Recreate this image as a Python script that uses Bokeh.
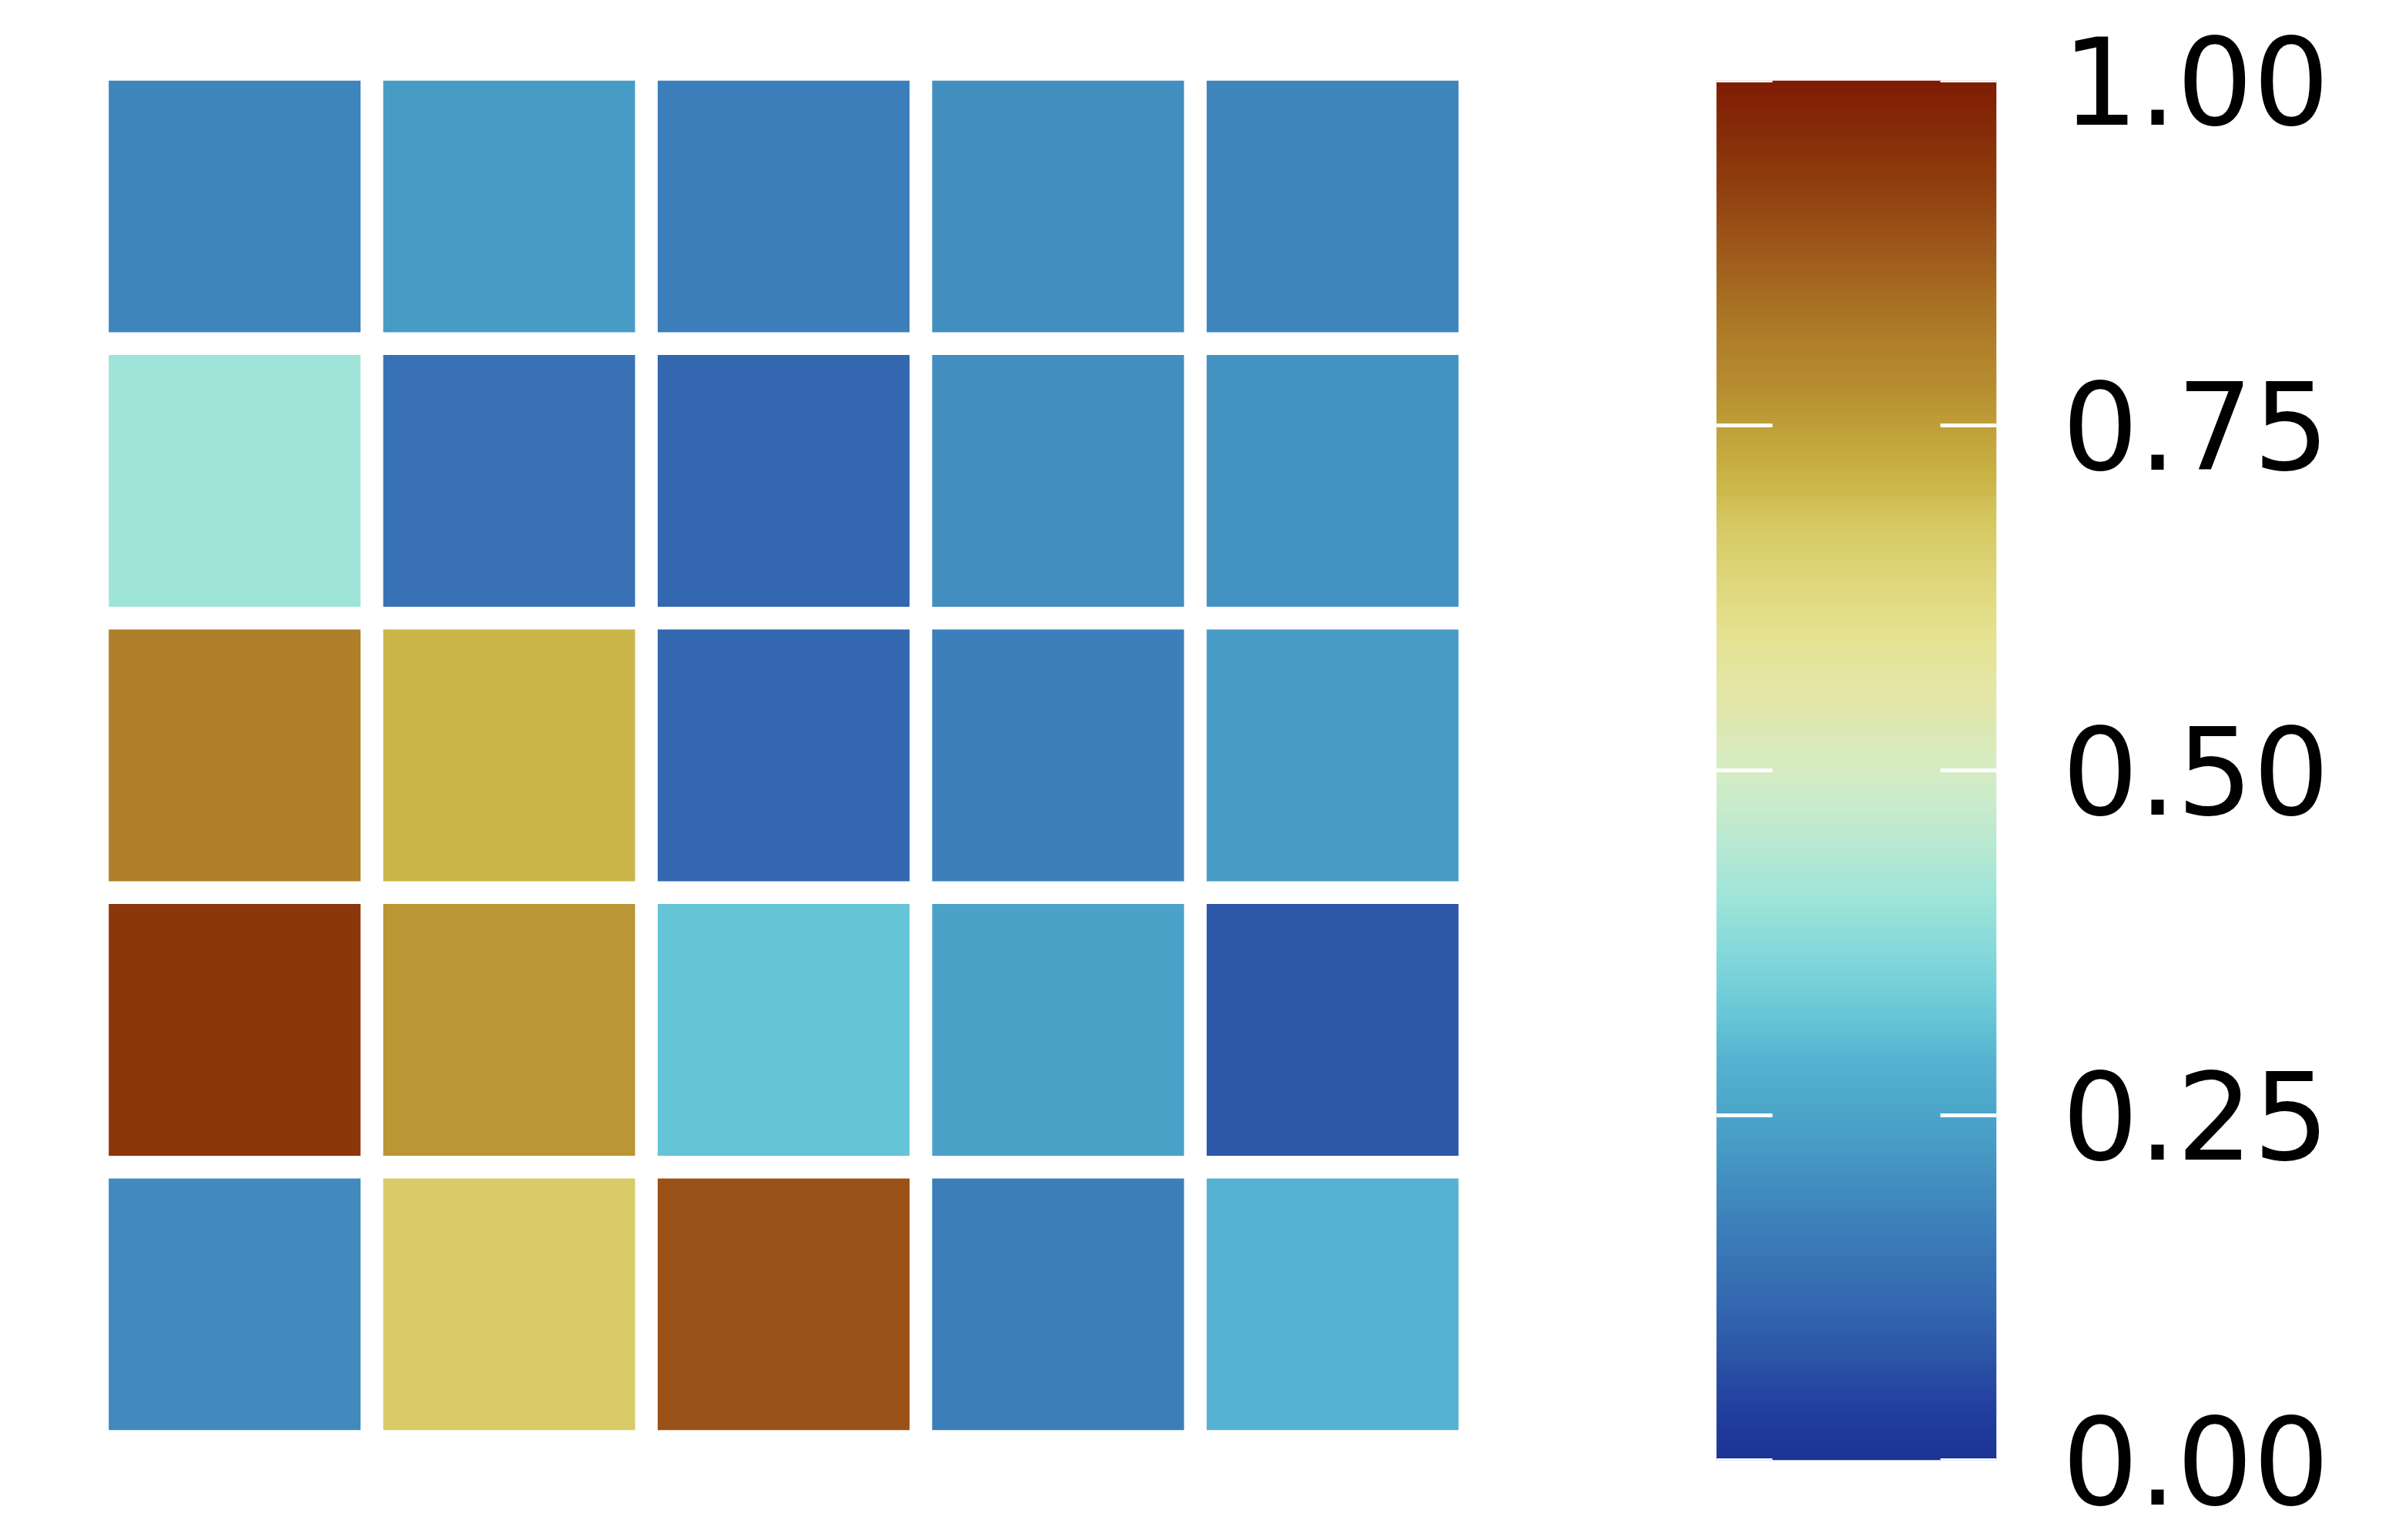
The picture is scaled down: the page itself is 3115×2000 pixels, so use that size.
import numpy as np
from bokeh.plotting import figure
from bokeh.layouts import row
from bokeh.models import ColumnDataSource, LinearColorMapper, FixedTicker, PrintfTickFormatter, Range1d
from bokeh.transform import transform
from bokeh.embed import file_html
from bokeh.resources import INLINE

# ---------------- data ----------------
columns = [0, 1, 2, 3, 4]
rows = [0, 1, 2, 3, 4]
row0 = [0.18, 0.23, 0.17, 0.20, 0.18]
row1 = [0.41, 0.14, 0.11, 0.20, 0.21]
row2 = [0.81, 0.71, 0.11, 0.17, 0.23]
row3 = [0.94, 0.765, 0.32, 0.245, 0.08]
row4 = [0.195, 0.67, 0.89, 0.165, 0.29]
cbar_ticks = [0.0, 0.25, 0.5, 0.75, 1.0]

# ---------------- colour map ----------------
anchors = [
    (0.00, "#1c3494"), (0.04, "#2441a0"), (0.08, "#2d58a8"), (0.11, "#3367af"),
    (0.14, "#3873b4"), (0.17, "#3c80ba"), (0.20, "#428ebf"), (0.23, "#489dc7"),
    (0.26, "#4da8ca"), (0.29, "#55b3d1"), (0.32, "#66c6d6"), (0.36, "#7fd6da"),
    (0.41, "#a0e5d8"), (0.46, "#c1ead0"), (0.50, "#d5ecc4"), (0.55, "#e3e7a9"),
    (0.60, "#e5e290"), (0.65, "#dcd274"), (0.68, "#d6c862"), (0.71, "#cab548"),
    (0.75, "#bf9f38"), (0.78, "#b78c30"), (0.81, "#b0802a"), (0.85, "#a56a20"),
    (0.89, "#9b5218"), (0.93, "#8e3c0d"), (0.97, "#852a07"), (1.00, "#7e1c03"),
]
def _rgb(h):
    return [int(h[i:i + 2], 16) for i in (1, 3, 5)]
pos = np.array([a[0] for a in anchors])
cols = np.array([_rgb(a[1]) for a in anchors], dtype=float)
t = np.linspace(0, 1, 256)
palette = []
for v in t:
    c = [np.interp(v, pos, cols[:, k]) for k in range(3)]
    palette.append("#%02x%02x%02x" % tuple(int(round(x)) for x in c))

mapper = LinearColorMapper(palette=palette, low=0.0, high=1.0)

# ---------------- heatmap ----------------
all_rows = [row0, row1, row2, row3, row4]
xs, ys, vs = [], [], []
for r, vals in zip(rows, all_rows):
    for c, v in zip(columns, vals):
        xs.append(c)
        ys.append(r)
        vs.append(v)
src = ColumnDataSource(dict(x=xs, y=ys, v=vs))

cell = 0.9175
half = cell / 2
p = figure(frame_width=1782, frame_height=1753, title=None,
           output_backend="svg", toolbar_location=None,
           x_range=Range1d(-0.5, 4.5), y_range=Range1d(4 + half, -half),
           x_axis_location=None, y_axis_location=None,
           min_border_left=126, min_border_right=0, min_border_top=104, min_border_bottom=100)
p.rect(x="x", y="y", width=cell, height=cell, source=src,
       fill_color=transform("v", mapper), line_color=None)
p.grid.visible = False
p.outline_line_color = None
p.background_fill_color = "white"
p.border_fill_color = "white"

# ---------------- colour bar ----------------
p2 = figure(frame_width=364, frame_height=1792, title=None,
            output_backend="svg", toolbar_location=None,
            x_range=Range1d(0, 1), y_range=Range1d(0, 1),
            x_axis_location=None, y_axis_location="right",
            min_border_left=320, min_border_right=480, min_border_top=104, min_border_bottom=104)
grad = np.linspace(0, 1, 512).reshape(-1, 1)
p2.image(image=[grad], x=0, y=0, dw=1, dh=1, color_mapper=mapper)
tick_frac = 73 / 364
p2.segment(x0=[0] * len(cbar_ticks), x1=[tick_frac] * len(cbar_ticks), y0=cbar_ticks, y1=cbar_ticks,
           line_color="white", line_width=5)
p2.segment(x0=[1 - tick_frac] * len(cbar_ticks), x1=[1] * len(cbar_ticks), y0=cbar_ticks, y1=cbar_ticks,
           line_color="white", line_width=5)
p2.grid.visible = False
p2.outline_line_color = None
ax = p2.yaxis[0]
ax.ticker = FixedTicker(ticks=cbar_ticks)
ax.formatter = PrintfTickFormatter(format="%.2f")
ax.axis_line_color = None
ax.major_tick_line_color = None
ax.minor_tick_line_color = None
ax.major_tick_out = 0
ax.major_tick_in = 0
ax.major_label_standoff = 85
ax.major_label_text_font = "DejaVu Sans"
ax.major_label_text_font_size = "156px"
ax.major_label_text_color = "black"

layout = row(p, p2)
open("out.html", "w").write(file_html(layout, INLINE))
